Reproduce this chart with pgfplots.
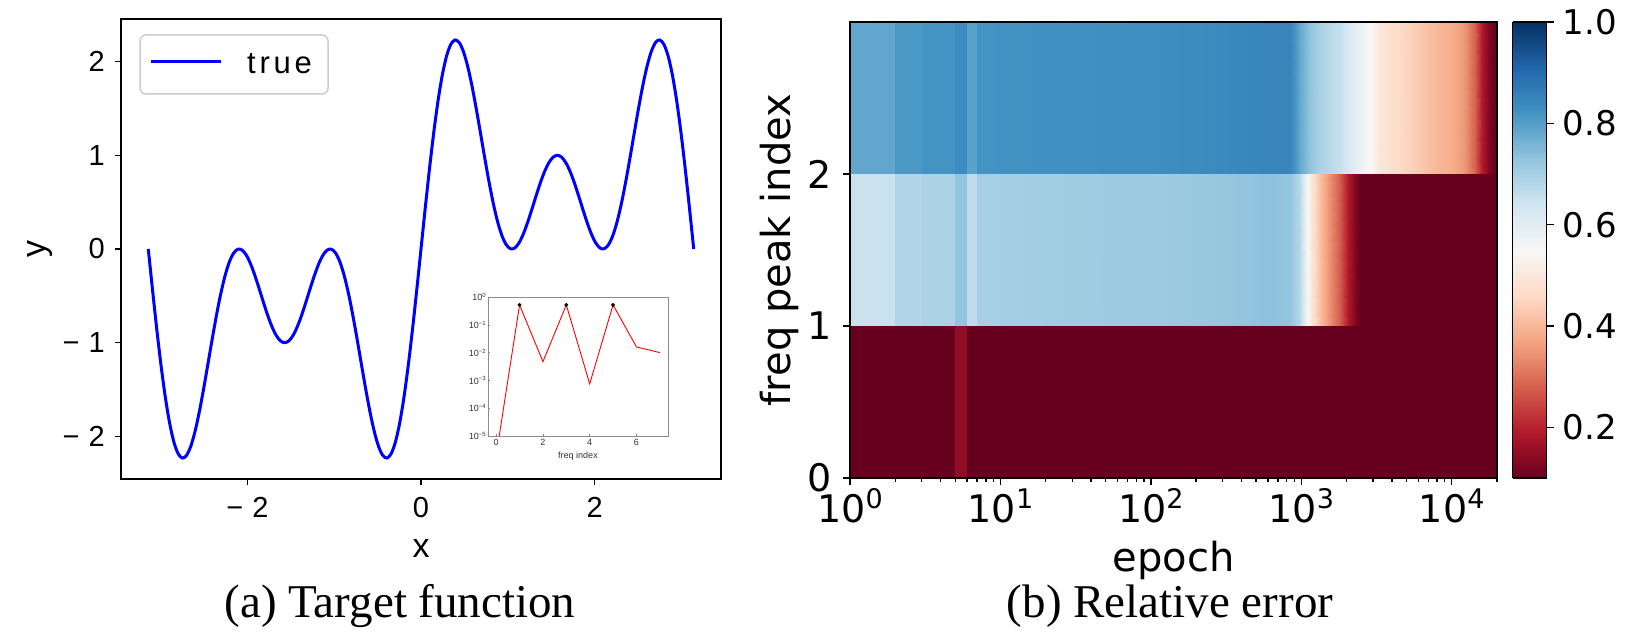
\documentclass[border=0pt]{standalone}
\usepackage{fontspec}
\usepackage{pgfplots}
\pgfplotsset{compat=1.18}
\newfontfamily\arialf{Liberation Sans}
\newfontfamily\arialsp[LetterSpace=12]{Liberation Sans}
\newfontfamily\dejavu{DejaVu Sans}
\newfontfamily\timesf{Liberation Serif}
\newcommand\fs[1]{\fontsize{#1}{#1}\selectfont}
\newcommand\pw[1]{10\raisebox{14pt}{\fs{27}#1}}
\newcommand\ipw[1]{10\raisebox{3.2pt}{\fs{6}#1}}
\definecolor{legframe}{RGB}{204,204,204}
\pgfplotsset{colormap={rdbu}{rgb255=(103,0,31) rgb255=(178,24,43) rgb255=(214,96,77) rgb255=(244,165,130) rgb255=(253,219,199) rgb255=(247,247,247) rgb255=(209,229,240) rgb255=(146,197,222) rgb255=(67,147,195) rgb255=(33,102,172) rgb255=(5,48,97)}}
\begin{document}
\begin{tikzpicture}
\useasboundingbox (0,0) rectangle (1641pt,639pt);
% ---------------- left panel ----------------
\begin{axis}[at={(121pt,160pt)}, anchor=south west, scale only axis, width=600pt, height=460pt,
 xmin=-3.456, xmax=3.456, ymin=-2.454, ymax=2.454,
 xtick={-2,0,2}, xticklabels={−\hspace{9pt}2,0,2},
 ytick={-2,-1,0,1,2}, yticklabels={−\hspace{9pt}2,−\hspace{9pt}1,0,1,2},
 xtick pos=bottom, ytick pos=left, tick align=outside, major tick length=6pt,
 tick style={line width=1.5pt, black},
 axis line style={line width=1.6pt},
 ticklabel style={font=\arialf\fs{29}},
 xticklabel style={anchor=base, inner sep=0pt, yshift=-33pt},
 yticklabel style={anchor=east, inner sep=0pt, xshift=-10pt},
 xlabel={x}, ylabel={y},
 label style={font=\arialf\fs{34}},
 xlabel style={at={(axis description cs:0.5,-0.170)}, anchor=base},
 ylabel style={at={(axis description cs:-0.135,0.5)}, anchor=center},
]
\addplot[blue, line width=3pt, smooth] coordinates {
(-3.1416,0) (-3.0925,-0.43878) (-3.0434,-0.85969) (-2.9943,-1.24586) (-2.9452,-1.58213) (-2.8962,-1.85609)
(-2.8471,-2.05848) (-2.7980,-2.18380) (-2.7489,-2.23044) (-2.6998,-2.20080) (-2.6507,-2.10097) (-2.6016,-1.94047)
(-2.5525,-1.73146) (-2.5035,-1.48817) (-2.4544,-1.22603) (-2.4053,-0.96067) (-2.3562,-0.70711) (-2.3071,-0.47892)
(-2.2580,-0.28747) (-2.2089,-0.14131) (-2.1598,-0.04577) (-2.1108,-0.00281) (-2.0617,-0.01089) (-2.0126,-0.06531)
(-1.9635,-0.15851) (-1.9144,-0.28071) (-1.8653,-0.42056) (-1.8162,-0.56597) (-1.7671,-0.70489) (-1.7181,-0.82614)
(-1.6690,-0.92017) (-1.6199,-0.97965) (-1.5708,-1.0) (-1.5217,-0.97965) (-1.4726,-0.92017) (-1.4235,-0.82614)
(-1.3744,-0.70489) (-1.3254,-0.56597) (-1.2763,-0.42056) (-1.2272,-0.28071) (-1.1781,-0.15851) (-1.1290,-0.06531)
(-1.0799,-0.01089) (-1.0308,-0.00281) (-0.9817,-0.04577) (-0.9327,-0.14131) (-0.8836,-0.28747) (-0.8345,-0.47892)
(-0.7854,-0.70711) (-0.7363,-0.96067) (-0.6872,-1.22603) (-0.6381,-1.48817) (-0.5890,-1.73146) (-0.5400,-1.94047)
(-0.4909,-2.10097) (-0.4418,-2.20080) (-0.3927,-2.23044) (-0.3436,-2.18380) (-0.2945,-2.05848) (-0.2454,-1.85609)
(-0.1963,-1.58213) (-0.1473,-1.24586) (-0.0982,-0.85969) (-0.0491,-0.43878) (0,0)
(0.0491,0.43878) (0.0982,0.85969) (0.1473,1.24586) (0.1963,1.58213) (0.2454,1.85609) (0.2945,2.05848)
(0.3436,2.18380) (0.3927,2.23044) (0.4418,2.20080) (0.4909,2.10097) (0.5400,1.94047) (0.5890,1.73146)
(0.6381,1.48817) (0.6872,1.22603) (0.7363,0.96067) (0.7854,0.70711) (0.8345,0.47892) (0.8836,0.28747)
(0.9327,0.14131) (0.9817,0.04577) (1.0308,0.00281) (1.0799,0.01089) (1.1290,0.06531) (1.1781,0.15851)
(1.2272,0.28071) (1.2763,0.42056) (1.3254,0.56597) (1.3744,0.70489) (1.4235,0.82614) (1.4726,0.92017)
(1.5217,0.97965) (1.5708,1.0) (1.6199,0.97965) (1.6690,0.92017) (1.7181,0.82614) (1.7671,0.70489)
(1.8162,0.56597) (1.8653,0.42056) (1.9144,0.28071) (1.9635,0.15851) (2.0126,0.06531) (2.0617,0.01089)
(2.1108,0.00281) (2.1598,0.04577) (2.2089,0.14131) (2.2580,0.28747) (2.3071,0.47892) (2.3562,0.70711)
(2.4053,0.96067) (2.4544,1.22603) (2.5035,1.48817) (2.5525,1.73146) (2.6016,1.94047) (2.6507,2.10097)
(2.6998,2.20080) (2.7489,2.23044) (2.7980,2.18380) (2.8471,2.05848) (2.8962,1.85609) (2.9452,1.58213)
(2.9943,1.24586) (3.0434,0.85969) (3.0925,0.43878) (3.1416,0)};
\end{axis}
% ---------------- inset ----------------
\begin{axis}[at={(488pt,203pt)}, anchor=south west, scale only axis, width=180pt, height=139pt,
 xmin=-0.35, xmax=7.35, ymode=log, ymin=1e-5, ymax=1,
 xtick={0,2,4,6}, xticklabels={0,2,4,6}, ytick={1e-5,1e-4,1e-3,1e-2,1e-1,1},
 yticklabels={\ipw{−5},\ipw{−4},\ipw{−3},\ipw{−2},\ipw{−1},\ipw{0}},
 xtick pos=bottom, ytick pos=left, tick align=inside, major tick length=2pt, minor tick length=1.2pt,
 axis line style={black!45, line width=0.7pt}, tick style={black!50, line width=0.5pt},
 ticklabel style={font=\arialf\fs{9}, text=black!80},
 yticklabel style={anchor=east, inner sep=0pt, xshift=-2pt},
 xticklabel style={anchor=north, inner sep=0pt, yshift=-3pt},
 xlabel={freq index}, xlabel style={font=\arialf\fs{9}, text=black!80, at={(axis description cs:0.5,-0.144)}, anchor=center},
]
\addplot[red, line width=0.9pt] coordinates {(0,2e-6) (1,0.52) (2,4.7e-3) (3,0.52) (4,7.5e-4) (5,0.52) (6,1.6e-2) (7,1.0e-2)};
\addplot[only marks, mark=*, mark size=1.7pt, black] coordinates {(1,0.52) (3,0.52) (5,0.52)};
\end{axis}
% ---------------- right panel ----------------
\begin{axis}[at={(850pt,161pt)}, anchor=south west, scale only axis, width=647pt, height=456pt,
 xmode=log, xmin=1, xmax=20000, ymin=0, ymax=3,
 xtick={1,10,100,1000,10000}, xticklabels={\pw{0},\pw{1},\pw{2},\pw{3},\pw{4}},
 minor xtick={2,3,...,9,20,30,...,90,200,300,...,900,2000,3000,...,9000,20000},
 ytick={0,1,2}, yticklabels={0,1,2},
 xtick pos=bottom, ytick pos=left, tick align=outside, major tick length=7pt, minor tick length=4pt,
 tick style={line width=1.3pt, black},
 axis line style={line width=1.5pt}, axis on top,
 ticklabel style={font=\dejavu\fs{38}},
 xticklabel style={anchor=base, inner sep=0pt, yshift=-38pt},
 yticklabel style={anchor=east, inner sep=0pt, xshift=-11pt},
 xlabel={epoch}, ylabel={freq peak index},
 label style={font=\dejavu\fs{40}},
 xlabel style={at={(axis description cs:0.5,-0.2061)}, anchor=base},
 ylabel style={at={(axis description cs:-0.109,0.5)}, anchor=center},
 colormap name=rdbu, point meta min=0.1, point meta max=1.0,
 colorbar sampled,
 colorbar style={at={(parent axis.south east)}, anchor=south west, xshift=7pt,
   scale only axis, width=34pt, height=456pt, samples=240,
   ytick={0.2,0.4,0.6,0.8,1.0}, yticklabels={0.2,0.4,0.6,0.8,1.0},
   ytick pos=right, yticklabel pos=right, tick align=outside, major tick length=7pt,
   tick style={line width=1.3pt, black}, axis line style={line width=1.5pt}, axis on top,
   yticklabel style={font=\dejavu\fs{34}, anchor=west, inner sep=0pt, xshift=9pt}},
]
% row 0
\addplot[surf, shader=interp, mesh/rows=2, point meta=explicit] coordinates {
(1,0) [0.1] (5,0) [0.1] (5,0) [0.15] (6,0) [0.15] (6,0) [0.1] (20000,0) [0.1]
(1,1) [0.1] (5,1) [0.1] (5,1) [0.15] (6,1) [0.15] (6,1) [0.1] (20000,1) [0.1]
};
% row 1
\addplot[surf, shader=interp, mesh/rows=2, point meta=explicit] coordinates {
(1,1) [0.65] (2,1) [0.65] (2,1) [0.684] (3,1) [0.684] (3,1) [0.694] (5,1) [0.694] (5,1) [0.73] (6,1) [0.73]
(6,1) [0.669] (7,1) [0.669] (7,1) [0.70] (10,1) [0.70] (10,1) [0.705] (100,1) [0.715] (300,1) [0.725]
(600,1) [0.735] (846,1) [0.73] (986,1) [0.675] (1098,1) [0.56] (1186,1) [0.49] (1340,1) [0.413]
(1563,1) [0.341] (1822,1) [0.274] (2057,1) [0.19] (2290,1) [0.13] (2472,1) [0.1] (20000,1) [0.1]
(1,2) [0.65] (2,2) [0.65] (2,2) [0.684] (3,2) [0.684] (3,2) [0.694] (5,2) [0.694] (5,2) [0.73] (6,2) [0.73]
(6,2) [0.669] (7,2) [0.669] (7,2) [0.70] (10,2) [0.70] (10,2) [0.705] (100,2) [0.715] (300,2) [0.725]
(600,2) [0.735] (846,2) [0.73] (986,2) [0.675] (1098,2) [0.56] (1186,2) [0.49] (1340,2) [0.413]
(1563,2) [0.341] (1822,2) [0.274] (2057,2) [0.19] (2290,2) [0.13] (2472,2) [0.1] (20000,2) [0.1]
};
% row 2
\addplot[surf, shader=interp, mesh/rows=2, point meta=explicit] coordinates {
(1,2) [0.785] (2,2) [0.785] (2,2) [0.81] (3,2) [0.81] (3,2) [0.82] (5,2) [0.82] (5,2) [0.836] (6,2) [0.836]
(6,2) [0.794] (7,2) [0.794] (7,2) [0.82] (100,2) [0.83] (300,2) [0.84] (623,2) [0.85] (846,2) [0.85]
(986,2) [0.78] (1150,2) [0.73] (1340,2) [0.695] (1822,2) [0.656] (2362,2) [0.59] (2882,2) [0.55]
(3360,2) [0.496] (4565,2) [0.46] (6195,2) [0.43] (8420,2) [0.397] (10000,2) [0.384] (12170,2) [0.35]
(14180,2) [0.28] (15790,2) [0.19] (17580,2) [0.127] (19270,2) [0.1] (20000,2) [0.1]
(1,3) [0.785] (2,3) [0.785] (2,3) [0.81] (3,3) [0.81] (3,3) [0.82] (5,3) [0.82] (5,3) [0.836] (6,3) [0.836]
(6,3) [0.794] (7,3) [0.794] (7,3) [0.82] (100,3) [0.83] (300,3) [0.84] (623,3) [0.85] (846,3) [0.85]
(986,3) [0.78] (1150,3) [0.73] (1340,3) [0.695] (1822,3) [0.656] (2362,3) [0.59] (2882,3) [0.55]
(3360,3) [0.496] (4565,3) [0.46] (6195,3) [0.43] (8420,3) [0.397] (10000,3) [0.384] (12170,3) [0.35]
(14180,3) [0.28] (15790,3) [0.19] (17580,3) [0.127] (19270,3) [0.1] (20000,3) [0.1]
};
\end{axis}
% legend and captions
\draw[legframe, line width=1.5pt, rounded corners=6pt, fill=white] (140pt,545pt) rectangle (328pt,604pt);
\draw[blue, line width=3pt] (151pt,577pt) -- (221pt,577pt);
\node[anchor=base west, inner sep=0pt] at (247pt,565pt) {\arialsp\fs{31}true};
\node[anchor=base, inner sep=0pt] at (400pt,21pt) {\timesf\fs{47}(a) Target function};
\node[anchor=base, inner sep=0pt] at (1170pt,21pt) {\timesf\fs{47}(b) Relative error};
\end{tikzpicture}
\end{document}
